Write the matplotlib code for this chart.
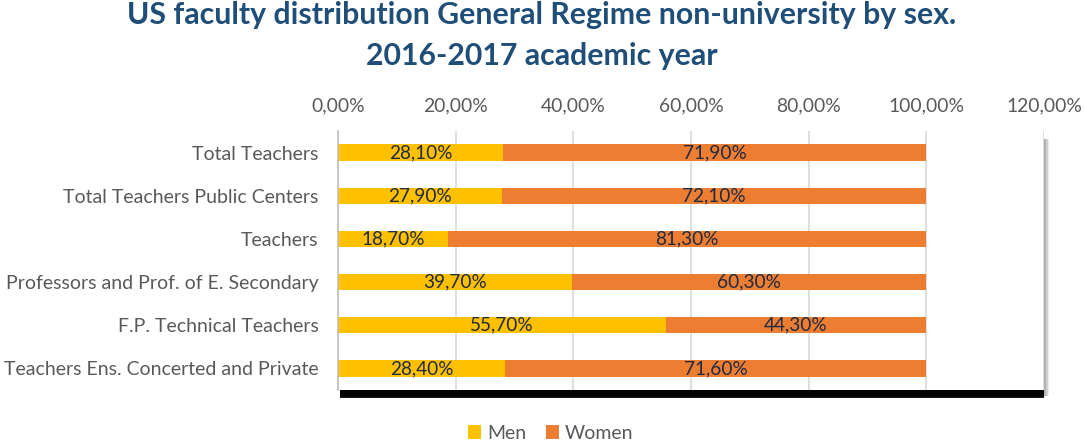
import matplotlib.pyplot as plt
from matplotlib.patches import Rectangle, Patch
from matplotlib.ticker import FuncFormatter

# === DATA ===
categories = ["Total Teachers", "Total Teachers Public Centers", "Teachers",
              "Professors and Prof. of E. Secondary", "F.P. Technical Teachers",
              "Teachers Ens. Concerted and Private"]
men = [28.1, 27.9, 18.7, 39.7, 55.7, 28.4]
women = [71.9, 72.1, 81.3, 60.3, 44.3, 71.6]
title = "US faculty distribution General Regime non-university by sex.\n2016-2017 academic year"

MEN_COLOR = "#FFC000"
WOMEN_COLOR = "#ED7D31"
TEXT_GRAY = "#595959"
LABEL_COLOR = "#1F2A44"

plt.rcParams['font.family'] = ['Lato', 'DejaVu Sans']

fig = plt.figure(figsize=(10.84, 4.44), dpi=100)
ax = fig.add_axes([0.3118, 0.1216, 0.6513, 0.5833])

# fake drop shadow behind the plot area (thick at the bottom, thin on the right)
W, H = 1084, 444
x0, y0, x1, y1 = 338, 54, 1044, 313
for i, a in enumerate([0.05, 0.1, 0.2, 0.35, 0.6, 0.9]):
    off = 5 - i
    fig.patches.append(Rectangle(((x0 + 2) / W, (y0 - 8 + off * 0.6) / H),
                                 (x1 - x0 - 2) / W, (y1 - y0) / H,
                                 transform=fig.transFigure, facecolor="black",
                                 edgecolor="none", alpha=a, zorder=0))
for i, (w, c) in enumerate([(5, "#EDEDED"), (3.5, "#D0D0D0"), (2, "#B0B0B0")]):
    fig.patches.append(Rectangle((x1 / W, (y0 - 6) / H), w / W, (y1 - y0 - 2) / H,
                                 transform=fig.transFigure, facecolor=c,
                                 edgecolor="none", zorder=0))
ax.set_zorder(1)
ax.set_facecolor("white")

y = list(range(len(categories)))
ax.barh(y, men, height=0.38, color=MEN_COLOR, label="Men")
ax.barh(y, women, left=men, height=0.38, color=WOMEN_COLOR, label="Women")

for i, (m, w) in enumerate(zip(men, women)):
    ax.text(m / 2, i, f"{m:.2f}%".replace(".", ","), ha="center", va="center",
            fontsize=13.7, color=LABEL_COLOR)
    ax.text(m + w / 2, i, f"{w:.2f}%".replace(".", ","), ha="center", va="center",
            fontsize=13.7, color=LABEL_COLOR)

ax.set_xlim(0, 120)
ax.set_ylim(len(categories) - 0.5, -0.5)
ax.set_xticks(range(0, 121, 20))
ax.xaxis.set_major_formatter(FuncFormatter(lambda v, p: f"{v:.2f}%".replace(".", ",")))
ax.xaxis.tick_top()
ax.tick_params(axis="x", length=0, pad=12, labelsize=13.9, labelcolor=TEXT_GRAY)
ax.set_yticks(y)
ax.set_yticklabels(categories)
ax.tick_params(axis="y", length=0, pad=14, labelsize=14, labelcolor=TEXT_GRAY)

ax.grid(axis="x", color="#D9D9D9", linewidth=1.2)
ax.set_axisbelow(True)
for s in ["top", "right", "bottom"]:
    ax.spines[s].set_visible(False)
ax.spines["left"].set_color("#BFBFBF")
ax.spines["left"].set_linewidth(1.2)

fig.text(0.5, 0.998, title, ha="center", va="top", fontsize=21.8, fontweight="bold",
         color="#1F4E79", linespacing=1.55)

handles = [Patch(facecolor=MEN_COLOR, label="Men"), Patch(facecolor=WOMEN_COLOR, label="Women")]
fig.legend(handles=handles, loc="lower center", bbox_to_anchor=(0.508, -0.035), ncol=2,
           frameon=False, fontsize=14, labelcolor=TEXT_GRAY, handlelength=0.7,
           handleheight=0.7, handletextpad=0.3, columnspacing=1.0)

fig.savefig("out.png", dpi=100)
